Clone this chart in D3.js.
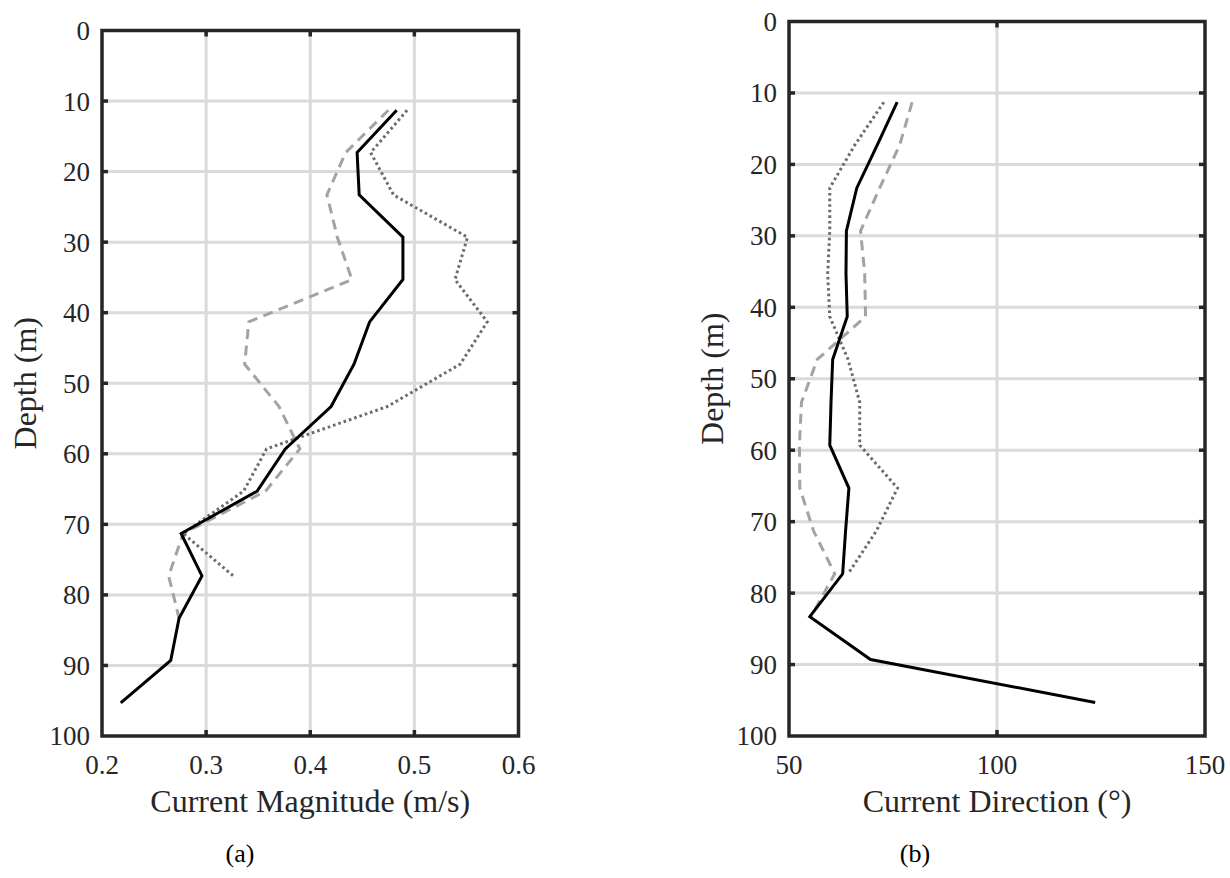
<!DOCTYPE html>
<html>
<head>
    <meta charset="UTF-8">
    <script src="https://cdn.jsdelivr.net/npm/d3@7"></script>
</head>
<body style="margin:0">
<script>
    // Depth of each bin (m)
    const depths = [11.3, 17.3, 23.3, 29.3, 35.3, 41.3, 47.3, 53.3, 59.3, 65.3, 71.3, 77.3, 83.3, 89.3, 95.3];

    // Current magnitude (m/s), panel (a)
    const magSolid  = [0.483, 0.445, 0.447, 0.489, 0.489, 0.457, 0.442, 0.420, 0.376, 0.349, 0.276, 0.296, 0.274, 0.266, 0.218];
    const magDashed = [0.475, 0.434, 0.416, 0.426, 0.440, 0.341, 0.337, 0.370, 0.390, 0.357, 0.278, 0.264, 0.274];
    const magDotted = [0.493, 0.458, 0.480, 0.551, 0.539, 0.570, 0.544, 0.474, 0.358, 0.336, 0.278, 0.326];

    // Current direction (deg), panel (b)
    const dirSolid  = [76.0, 71.2, 66.3, 63.8, 63.7, 64.0, 60.5, 60.1, 59.8, 64.4, 63.6, 62.9, 55.0, 69.6, 123.6];
    const dirDashed = [79.6, 76.6, 71.8, 67.2, 68.2, 68.4, 56.8, 53.0, 52.5, 52.6, 55.9, 61.0, 55.3];
    const dirDotted = [72.8, 65.8, 59.8, 59.8, 59.3, 59.8, 64.2, 67.0, 67.0, 76.1, 71.0, 64.2];

    // Tick values
    const depthTicks = [0, 10, 20, 30, 40, 50, 60, 70, 80, 90, 100];
    const magTicks = [0.2, 0.3, 0.4, 0.5, 0.6];
    const dirTicks = [50, 100, 150];

    const serif = "Liberation Serif";

    const svg = d3.select("body")
        .append("svg")
        .attr("width", 1230)
        .attr("height", 878);

    const styles = {
        solid:  { color: "#000000", dash: null },
        dashed: { color: "#a3a3a3", dash: "10,6.5" },
        dotted: { color: "#6b6b6b", dash: "2.6,3" }
    };

    function label(g, size) {
        return g.append("text")
            .attr("font-family", serif)
            .style("font-family", serif)
            .attr("font-size", size)
            .attr("fill", "#262626");
    }

    function drawPanel(p) {
        const x = d3.scaleLinear().domain(p.xDomain).range([p.left, p.right]);
        const y = d3.scaleLinear().domain([0, 100]).range([p.top, p.bottom]);
        const g = svg.append("g");

        // grid
        g.selectAll(".gx")
            .data(p.xTicks.slice(1, -1))
            .enter().append("line")
            .attr("x1", d => x(d)).attr("x2", d => x(d))
            .attr("y1", p.top).attr("y2", p.bottom)
            .attr("stroke", "#dadada")
            .attr("stroke-width", 3);
        g.selectAll(".gy")
            .data(depthTicks.slice(1, -1))
            .enter().append("line")
            .attr("x1", p.left).attr("x2", p.right)
            .attr("y1", d => y(d)).attr("y2", d => y(d))
            .attr("stroke", "#dadada")
            .attr("stroke-width", 3);

        // profiles
        const line = d3.line()
            .x(d => x(d[0]))
            .y(d => y(d[1]));

        p.series.forEach(s => {
            const pts = s.values.map((v, i) => [v, depths[i]]);
            g.append("path")
                .datum(pts)
                .attr("d", line)
                .attr("fill", "none")
                .attr("stroke", styles[s.style].color)
                .attr("stroke-width", 3)
                .attr("stroke-linejoin", "miter")
                .attr("stroke-dasharray", styles[s.style].dash);
        });

        // inward ticks on all four sides
        const tk = 6;
        p.xTicks.slice(1, -1).forEach(t => {
            g.append("line")
                .attr("x1", x(t)).attr("x2", x(t))
                .attr("y1", p.bottom).attr("y2", p.bottom - tk)
                .attr("stroke", "#262626").attr("stroke-width", 3.5);
            g.append("line")
                .attr("x1", x(t)).attr("x2", x(t))
                .attr("y1", p.top).attr("y2", p.top + tk)
                .attr("stroke", "#262626").attr("stroke-width", 3.5);
        });
        depthTicks.slice(1, -1).forEach(t => {
            g.append("line")
                .attr("x1", p.left).attr("x2", p.left + tk)
                .attr("y1", y(t)).attr("y2", y(t))
                .attr("stroke", "#262626").attr("stroke-width", 3.5);
            g.append("line")
                .attr("x1", p.right).attr("x2", p.right - tk)
                .attr("y1", y(t)).attr("y2", y(t))
                .attr("stroke", "#262626").attr("stroke-width", 3.5);
        });

        // box
        g.append("rect")
            .attr("x", p.left).attr("y", p.top)
            .attr("width", p.right - p.left)
            .attr("height", p.bottom - p.top)
            .attr("fill", "none")
            .attr("stroke", "#262626")
            .attr("stroke-width", 3.5);

        // tick labels
        depthTicks.forEach(d => {
            label(g, 27)
                .attr("x", p.left - 12)
                .attr("y", y(d))
                .attr("dy", "0.35em")
                .attr("text-anchor", "end")
                .text(d);
        });
        p.xTicks.forEach(d => {
            label(g, 27)
                .attr("x", x(d))
                .attr("y", p.bottom + 38)
                .attr("text-anchor", "middle")
                .text(p.fmt(d));
        });

        // axis labels
        label(g, 32)
            .attr("x", (p.left + p.right) / 2)
            .attr("y", p.bottom + 76)
            .attr("text-anchor", "middle")
            .text(p.xLabel);
        label(g, 32)
            .attr("transform", `translate(${p.left - 66},${(p.top + p.bottom) / 2}) rotate(-90)`)
            .attr("text-anchor", "middle")
            .text("Depth (m)");

        // panel tag
        label(g, 26)
            .attr("x", p.tagX)
            .attr("y", 862)
            .attr("text-anchor", "middle")
            .attr("fill", "#000")
            .text(p.tag);
    }

    drawPanel({
        left: 102, right: 518.5, top: 30.5, bottom: 736,
        xDomain: [0.2, 0.6], xTicks: magTicks, fmt: d => d.toFixed(1),
        xLabel: "Current Magnitude (m/s)", tag: "(a)", tagX: 240,
        series: [
            { values: magDashed, style: "dashed" },
            { values: magDotted, style: "dotted" },
            { values: magSolid, style: "solid" }
        ]
    });

    drawPanel({
        left: 789, right: 1205, top: 21.5, bottom: 736,
        xDomain: [50, 150], xTicks: dirTicks, fmt: d => d,
        xLabel: "Current Direction (°)", tag: "(b)", tagX: 915,
        series: [
            { values: dirDashed, style: "dashed" },
            { values: dirDotted, style: "dotted" },
            { values: dirSolid, style: "solid" }
        ]
    });
</script>
</body>
</html>
